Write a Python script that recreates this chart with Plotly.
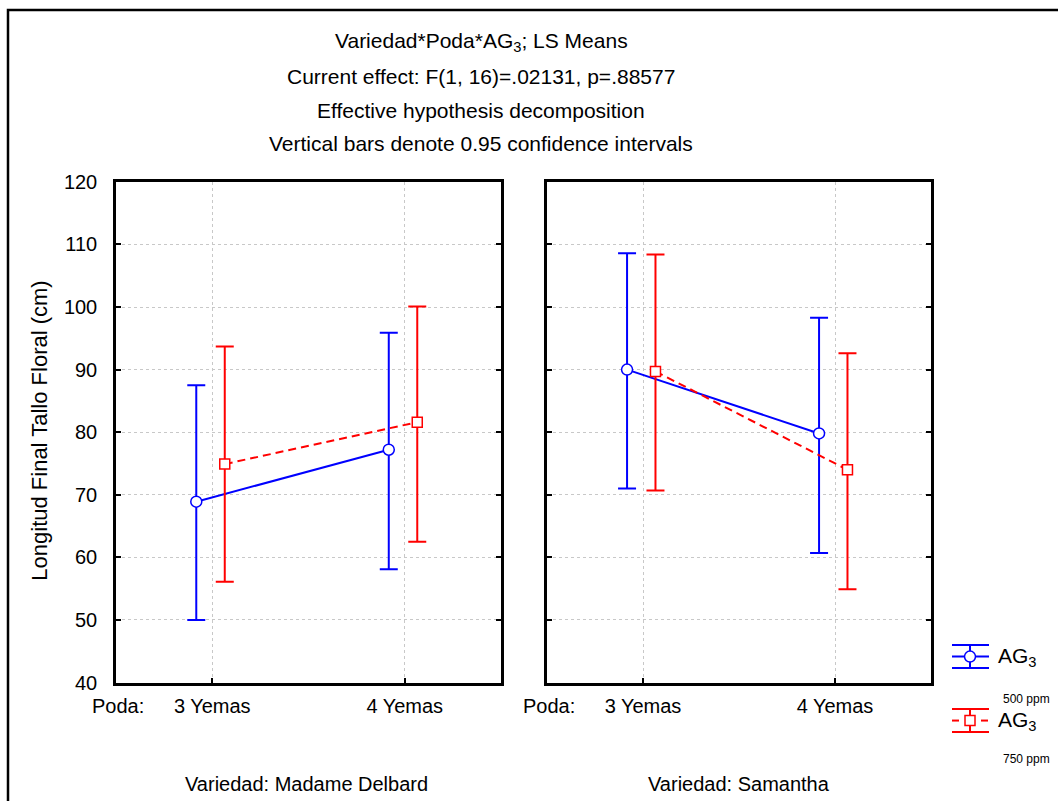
import plotly.graph_objects as go

# ---------------- data ----------------
poda = ["3 Yemas", "4 Yemas"]
y_ticks = [40, 50, 60, 70, 80, 90, 100, 110, 120]

md_500_mean = [68.9, 77.2]
md_500_lo = [50.0, 58.1]
md_500_hi = [87.5, 95.9]
md_750_mean = [74.9, 81.6]
md_750_lo = [56.1, 62.5]
md_750_hi = [93.7, 100.1]

sa_500_mean = [90.0, 79.8]
sa_500_lo = [71.0, 60.7]
sa_500_hi = [108.6, 98.3]
sa_750_mean = [89.7, 74.0]
sa_750_lo = [70.7, 54.9]
sa_750_hi = [108.4, 92.6]

# ---------------- style ----------------
W, H = 1058, 801
FONT = "Liberation Sans, Arial, sans-serif"
FS = 20
BLUE = "#0000ff"
RED = "#ff0000"
OFF_500 = -0.083
OFF_750 = 0.065
# empirical correction of the vertical placement seen in the capture
VS, VO = 0.973, 9.1


def px(x):
    return x / W


def py(y):
    return 1 - ((y - VO) / VS) / H


fig = go.Figure()


def add_series(mean, lo, hi, offset, color, symbol, dash, xa, ya, name):
    xs = [i + offset for i in range(len(poda))]
    fig.add_trace(go.Scatter(
        x=xs, y=mean, mode="lines+markers", name=name,
        xaxis=xa, yaxis=ya, showlegend=False,
        line=dict(color=color, width=2, dash=dash),
        marker=dict(symbol=symbol, size=11 if symbol == "circle" else 10,
                    color="white", line=dict(color=color, width=1.5)),
        error_y=dict(type="data", symmetric=False,
                     array=[h - m for h, m in zip(hi, mean)],
                     arrayminus=[m - l for m, l in zip(mean, lo)],
                     color=color, thickness=2, width=9),
    ))


add_series(md_500_mean, md_500_lo, md_500_hi, OFF_500, BLUE, "circle", "solid", "x", "y", "500 ppm")
add_series(md_750_mean, md_750_lo, md_750_hi, OFF_750, RED, "square", "8px,5px", "x", "y", "750 ppm")
add_series(sa_500_mean, sa_500_lo, sa_500_hi, OFF_500, BLUE, "circle", "solid", "x2", "y2", "500 ppm")
add_series(sa_750_mean, sa_750_lo, sa_750_hi, OFF_750, RED, "square", "8px,5px", "x2", "y2", "750 ppm")

ydom = [py(681), py(180)]
xcommon = dict(range=[-0.5, 1.5], tickvals=[0, 1], ticktext=poda,
               showline=True, linecolor="black", linewidth=2.5, mirror=True,
               ticks="inside", ticklen=5, tickwidth=2, tickcolor="black",
               showgrid=True, gridcolor="#c8c8c8", griddash="dot", gridwidth=1,
               zeroline=False, ticklabelstandoff=4,
               tickfont=dict(family=FONT, size=FS, color="black"))
ycommon = dict(range=[40, 120], tickvals=y_ticks, domain=ydom,
               showline=True, linecolor="black", linewidth=2.5, mirror="ticks",
               ticks="inside", ticklen=5, tickwidth=2, tickcolor="black",
               showgrid=True, gridcolor="#c8c8c8", griddash="dot", gridwidth=1,
               zeroline=False, ticklabelstandoff=12,
               tickfont=dict(family=FONT, size=FS, color="black"))

fig.update_layout(
    width=W, height=H, margin=dict(l=0, r=0, t=0, b=0),
    paper_bgcolor="white", plot_bgcolor="white",
    font=dict(family=FONT, size=FS, color="black"),
    xaxis=dict(domain=[px(116), px(501)], anchor="y", **xcommon),
    yaxis=dict(anchor="x", showticklabels=True, **ycommon),
    xaxis2=dict(domain=[px(547), px(931)], anchor="y2", **xcommon),
    yaxis2=dict(anchor="x2", showticklabels=False, **ycommon),
)

ann = []
titles = [("Variedad*Poda*AG<sub>3</sub>; LS Means", 40),
          ("Current effect: F(1, 16)=.02131, p=.88577", 75),
          ("Effective hypothesis decomposition", 109),
          ("Vertical bars denote 0.95 confidence intervals", 142)]
for t, yy in titles:
    ann.append(dict(text=t, x=px(481), y=py(yy), xref="paper", yref="paper",
                    xanchor="center", yanchor="middle", showarrow=False,
                    font=dict(family=FONT, size=21)))
ann.append(dict(text="Longitud Final Tallo Floral (cm)", x=px(40), y=py(429),
                xref="paper", yref="paper", textangle=-90, showarrow=False,
                xanchor="center", yanchor="middle", font=dict(family=FONT, size=22)))
for xx in (90, 521):
    ann.append(dict(text="Poda:", x=px(xx), y=py(704), xref="paper", yref="paper",
                    xanchor="left", yanchor="middle", showarrow=False,
                    font=dict(family=FONT, size=FS)))
ann.append(dict(text="Variedad: Madame Delbard", x=px(306), y=py(782), xref="paper",
                yref="paper", xanchor="center", yanchor="middle", showarrow=False,
                font=dict(family=FONT, size=FS)))
ann.append(dict(text="Variedad: Samantha", x=px(739), y=py(782), xref="paper",
                yref="paper", xanchor="center", yanchor="middle", showarrow=False,
                font=dict(family=FONT, size=FS)))

# legend (drawn manually) and outer frame
shapes = []
shapes.append(dict(type="rect", xref="paper", yref="paper", x0=px(8), x1=px(1070),
                   y0=py(830), y1=py(8), line=dict(color="black", width=2.5)))
leg = [(BLUE, "circle", 655, "500 ppm", 697, "solid"),
       (RED, "square", 719, "750 ppm", 757, "dash")]
for color, sym, cy, lab, ly, d in leg:
    for yy in (cy - 11.5, cy + 11.5):
        shapes.append(dict(type="line", xref="paper", yref="paper", x0=px(952), x1=px(989),
                           y0=py(yy), y1=py(yy), line=dict(color=color, width=2)))
    shapes.append(dict(type="line", xref="paper", yref="paper", x0=px(970), x1=px(970),
                       y0=py(cy - 11.5), y1=py(cy + 11.5), line=dict(color=color, width=2)))
    if d == "solid":
        shapes.append(dict(type="line", xref="paper", yref="paper", x0=px(952), x1=px(989),
                           y0=py(cy), y1=py(cy), line=dict(color=color, width=2)))
    else:
        for a, b in ((952, 959), (981, 988)):
            shapes.append(dict(type="line", xref="paper", yref="paper", x0=px(a), x1=px(b),
                               y0=py(cy), y1=py(cy), line=dict(color=color, width=2)))
    if sym == "circle":
        shapes.append(dict(type="circle", xref="paper", yref="paper", x0=px(964.5), x1=px(975.5),
                           y0=py(cy + 5.5), y1=py(cy - 5.5), fillcolor="white",
                           line=dict(color=color, width=1.5)))
    else:
        shapes.append(dict(type="rect", xref="paper", yref="paper", x0=px(965), x1=px(975),
                           y0=py(cy + 5), y1=py(cy - 5), fillcolor="white",
                           line=dict(color=color, width=1.5)))
    ann.append(dict(text="AG<sub>3</sub>", x=px(996), y=py(cy), xref="paper", yref="paper",
                    xanchor="left", yanchor="middle", showarrow=False,
                    font=dict(family=FONT, size=21)))
    ann.append(dict(text=lab, x=px(1001), y=py(ly), xref="paper", yref="paper",
                    xanchor="left", yanchor="middle", showarrow=False,
                    font=dict(family=FONT, size=12)))

fig.update_layout(annotations=ann, shapes=shapes)
fig.write_html("out.html", config={"displayModeBar": False},
               post_script="document.body.style.margin='0';"
                           "document.body.style.overflow='hidden';")
